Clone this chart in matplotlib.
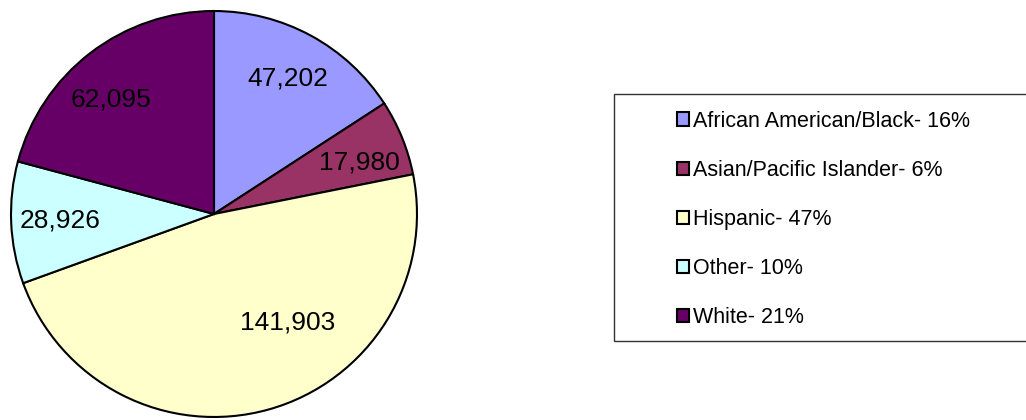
import matplotlib
matplotlib.use("Agg")
import matplotlib.pyplot as plt
import matplotlib.patches as mpatches
import numpy as np

plt.rcParams['font.family'] = ['Liberation Sans', 'DejaVu Sans']

categories = ["African American/Black", "Asian/Pacific Islander", "Hispanic", "Other", "White"]
values = [47202, 17980, 141903, 28926, 62095]
legend_pcts = ["16%", "6%", "47%", "10%", "21%"]
colors = ["#9999FF", "#993366", "#FFFFCC", "#CCFFFF", "#660066"]

W, H = 1026, 420
fig = plt.figure(figsize=(W / 100, H / 100), dpi=100)

# pie axes: square box
ax = fig.add_axes([10 / W, 2 / H, 408 / W, 408 / H])
wedges, _ = ax.pie(values, colors=colors, startangle=90, counterclock=False,
                   wedgeprops=dict(edgecolor="black", linewidth=1.5))
ax.set_xlim(-1.005, 1.005)
ax.set_ylim(-1.005, 1.005)
ax.axis("off")

for i, (w, v) in enumerate(zip(wedges, values)):
    ang = np.deg2rad((w.theta1 + w.theta2) / 2)
    dist = 0.76
    if categories[i] == "Hispanic":
        # Excel pulls this big slice label inwards/upwards
        ang = np.deg2rad(-56)
        dist = 0.645
    elif categories[i] == "White":
        ang += np.deg2rad(4.5)
    elif categories[i] == "Asian/Pacific Islander":
        ang -= np.deg2rad(2.5)
    ax.text(dist * np.cos(ang), dist * np.sin(ang), f"{v:,}",
            ha="center", va="center", fontsize=19, color="black")

# legend frame
frame = mpatches.Rectangle((614 / W, (H - 341) / H), (W - 614 + 10) / W, 247 / H,
                           transform=fig.transFigure, fill=False,
                           edgecolor="#333333", linewidth=1.0)
fig.add_artist(frame)

handles = [mpatches.Patch(facecolor=c, edgecolor="black", linewidth=1.5) for c in colors]
labels = [f"{c}- {p}" for c, p in zip(categories, legend_pcts)]
fig.legend(handles, labels, loc="center left",
           bbox_to_anchor=(677 / W, 1 - 219.5 / H),
           frameon=False, fontsize=15.5, handlelength=0.56, handleheight=0.56,
           handletextpad=0.2, labelspacing=1.31, borderpad=0, borderaxespad=0)

fig.savefig("out.png", dpi=100)
